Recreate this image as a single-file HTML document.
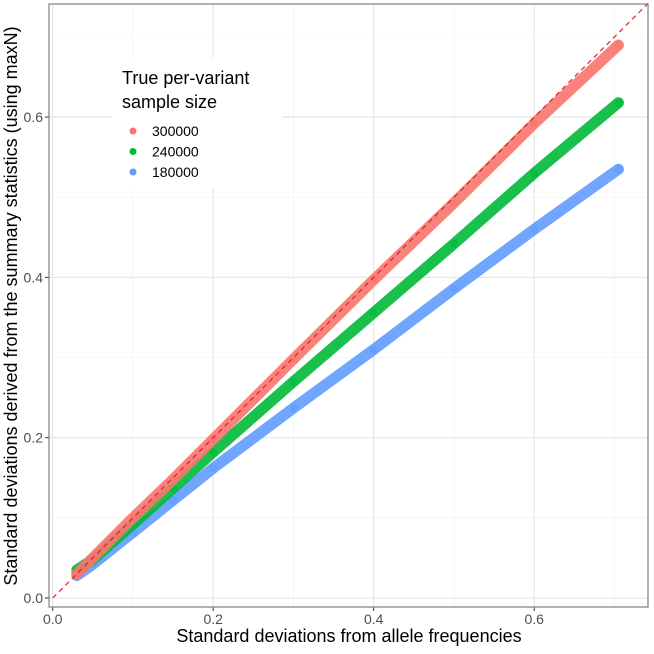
<!DOCTYPE html>
<html><head><meta charset="utf-8"><style>
body{margin:0;background:#fff;font-family:"Liberation Sans",sans-serif}
</style></head><body>
<svg id="c" width="654" height="649" xmlns="http://www.w3.org/2000/svg" font-family="Liberation Sans, sans-serif"></svg>
<script>
const xTicks=[0,0.2,0.4,0.6];
const yTicks=[0,0.2,0.4,0.6];
const xTickLabels=["0.0","0.2","0.4","0.6"];
const yTickLabels=["0.0","0.2","0.4","0.6"];
const seriesNames=["300000","240000","180000"];
const seriesColors=["#F8766D","#00BA38","#619CFF"];
const xs=[0.03,0.05,0.1,0.15,0.2,0.3,0.4,0.5,0.6,0.705];
const y300=[0.03,0.05,0.1,0.148,0.198,0.298,0.397,0.493,0.592,0.69];
const y240=[0.035,0.048,0.092,0.137,0.182,0.27,0.356,0.442,0.53,0.618];
const y180=[0.028,0.042,0.082,0.122,0.162,0.237,0.31,0.386,0.46,0.535];
const L=49,R=648,T=4,B=607;
const sx=v=>52.7+v*802.5, sy=v=>598-v*801.5;
const svg=document.getElementById('c');
const NS="http://www.w3.org/2000/svg";
function mk(t,a,p){const e=document.createElementNS(NS,t);for(const k in a)e.setAttribute(k,a[k]);(p||svg).appendChild(e);return e;}
const bg=mk('rect',{x:L,y:T,width:R-L,height:B-T,fill:'#fff'});


[0.1,0.3,0.5,0.7].forEach(v=>{
 const g=mk('line',{x1:sx(v),x2:sx(v),y1:T,y2:B,stroke:'#f2f2f2','stroke-width':0.7});
 
 
 const h=mk('line',{x1:L,x2:R,y1:sy(v),y2:sy(v),stroke:'#f2f2f2','stroke-width':0.7});
 
 
});
xTicks.forEach((v,i)=>{
 const g=mk('line',{x1:sx(v),x2:sx(v),y1:T,y2:B,stroke:'#e6e6e6','stroke-width':1.2});
 
 
 const tk=mk('line',{x1:sx(v),x2:sx(v),y1:B,y2:B+4,stroke:'#333','stroke-width':1});
 
 
 const t=mk('text',{x:sx(v),y:B+17,'text-anchor':'middle','font-size':14,fill:'#4d4d4d'});
 t.textContent=xTickLabels[i];
 
 
});
yTicks.forEach((v,i)=>{
 const g=mk('line',{x1:L,x2:R,y1:sy(v),y2:sy(v),stroke:'#e6e6e6','stroke-width':1.2});
 
 
 const tk=mk('line',{x1:L-4,x2:L,y1:sy(v),y2:sy(v),stroke:'#333','stroke-width':1});
 
 
 const t=mk('text',{x:L-6,y:sy(v)+5,'text-anchor':'end','font-size':14,fill:'#4d4d4d'});
 t.textContent=yTickLabels[i];
 
 
});
[y180,y240,y300].forEach((ys,k)=>{
 const si=2-k;
 const g=mk('g',{});
 
 
 const d=xs.map((x,i)=>(i?'L':'M')+sx(x)+','+sy(ys[i])).join(' ');
 const p=mk('path',{d:d,fill:'none',stroke:seriesColors[si],'stroke-width':11,'stroke-linecap':'round','stroke-linejoin':'round','stroke-opacity':0.9},g);
 
 
 xs.forEach((x,i)=>{
  const c=mk('circle',{cx:sx(x),cy:sy(ys[i]),r:4,fill:seriesColors[si],'fill-opacity':0.7},g);
  
  
 });
});
const dl=mk('line',{x1:sx(0),y1:sy(0),x2:R,y2:sy((R-52.7)/802.5),stroke:'#e0202a','stroke-width':1.2,'stroke-dasharray':'5,4'});


const br=mk('rect',{x:L,y:T,width:R-L,height:B-T,fill:'none',stroke:'#7f7f7f','stroke-width':1.2});


const lg=mk('g',{});


mk('rect',{x:112,y:58,width:170,height:130,fill:'#fff'},lg);
['True per-variant','sample size'].forEach((s,i)=>{
 const t=mk('text',{x:122,y:84+i*24,'font-size':18,fill:'#000'},lg);
 t.textContent=s;
 
 
});
seriesNames.forEach((n,i)=>{
 const e=mk('g',{},lg);
 
 
 mk('circle',{cx:133,cy:131+i*20.5,r:3.5,fill:seriesColors[i]},e);
 const t=mk('text',{x:152,y:136+i*20.5,'font-size':14,fill:'#000'},e);
 t.textContent=n;
});
const xt=mk('text',{x:349,y:642,'text-anchor':'middle','font-size':18,fill:'#000'});
xt.textContent='Standard deviations from allele frequencies';


const yt=mk('text',{x:0,y:0,'text-anchor':'middle','font-size':18,fill:'#000',transform:'translate(17,306) rotate(-90)'});
yt.textContent='Standard deviations derived from the summary statistics (using maxN)';


</script>
</body></html>
